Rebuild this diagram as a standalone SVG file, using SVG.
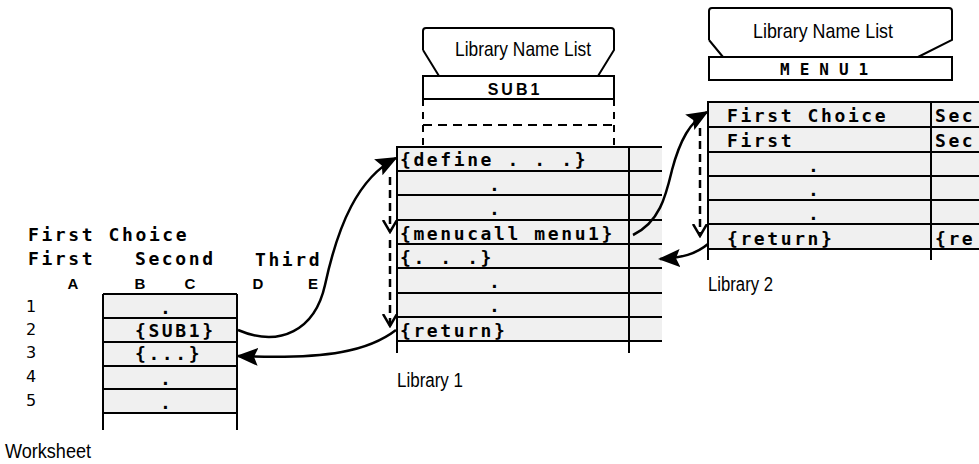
<svg xmlns="http://www.w3.org/2000/svg" width="979" height="464" viewBox="0 0 979 464">
<style>
.ln{stroke:#000;stroke-width:2;fill:none}
.cell{fill:#f0f0f0;stroke:none}
.m{font-family:"DejaVu Sans Mono",monospace;font-weight:bold;font-size:18px;letter-spacing:2.6px;fill:#000}
.h{font-family:"Liberation Sans",Arial,sans-serif;font-weight:bold;font-size:15px;fill:#000;text-anchor:middle}
.n{font-family:"DejaVu Sans",sans-serif;font-size:16px;fill:#000}
.lbl{font-family:"Liberation Sans",Arial,sans-serif;font-size:20px;fill:#000}
.nl{font-family:"Liberation Sans",Arial,sans-serif;font-size:21px;fill:#000;text-anchor:middle}
.conn{stroke:#000;stroke-width:2.5;fill:none}
.dash{stroke:#000;stroke-width:2.5;fill:none;stroke-dasharray:8 5}
</style>
<defs>
<marker id="triB" markerWidth="22" markerHeight="18" refX="20" refY="9" orient="auto" markerUnits="userSpaceOnUse" viewBox="0 0 22 18">
<path d="M0,0 L22,9 L0,18 L4,9 z" fill="#000"/>
</marker>
<marker id="chev" markerWidth="14" markerHeight="16" refX="12" refY="8" orient="auto" markerUnits="userSpaceOnUse" viewBox="0 0 14 16">
<path d="M0,1 L12,8 L0,15" fill="none" stroke="#000" stroke-width="2.5"/>
</marker>
</defs>
<rect width="979" height="464" fill="#fff"/>

<g id="worksheet">
<rect class="cell" x="103" y="294" width="134" height="119"/>
<path class="ln" d="M103,294 H237 M103,318 H237 M103,342 H237 M103,366 H237 M103,389 H237 M103,413 H237 M103,294 V430 M237,294 V430"/>
<text class="m" x="28" y="241">First Choice</text>
<text class="m" x="28" y="265">First</text>
<text class="m" x="135" y="265">Second</text>
<text class="m" x="255" y="266">Third</text>
<text class="h" x="73" y="289">A</text>
<text class="h" x="140" y="289">B</text>
<text class="h" x="190" y="289">C</text>
<text class="h" x="258" y="289">D</text>
<text class="h" x="313" y="289">E</text>
<text class="n" x="26" y="312">1</text>
<text class="n" x="26" y="335">2</text>
<text class="n" x="26" y="358">3</text>
<text class="n" x="26" y="382">4</text>
<text class="n" x="26" y="406">5</text>
<text class="m" x="160" y="314">.</text>
<text class="m" x="135" y="337">{SUB1}</text>
<text class="m" x="135" y="360">{...}</text>
<text class="m" x="160" y="385">.</text>
<text class="m" x="160" y="409">.</text>
<text class="lbl" x="5" y="458" textLength="86" lengthAdjust="spacingAndGlyphs">Worksheet</text>
</g>

<g id="namelist1">
<path class="ln" d="M426,28 H611 Q614,28 614,31 V50 L598,76 M423,50 V31 Q423,28 426,28 M423,50 L439,76"/>
<text class="nl" x="523" y="56" textLength="136" lengthAdjust="spacingAndGlyphs">Library Name List</text>
<rect x="423" y="76" width="191" height="23" fill="#fff" stroke="#000" stroke-width="2"/>
<text x="515" y="95" text-anchor="middle" font-family="Liberation Sans,Arial,sans-serif" font-weight="bold" font-size="16" letter-spacing="3">SUB1</text>
<path class="ln" d="M423,99 V147 M614,99 V147" stroke-dasharray="7 6"/>
<path class="ln" d="M423,125 H614" stroke-dasharray="9 6"/>
</g>

<g id="library1">
<rect class="cell" x="397" y="147" width="265" height="195"/>
<path class="ln" d="M397,147 H662 M397,171 H662 M397,195 H662 M397,220 H662 M397,244 H662 M397,268 H662 M397,293 H662 M397,317 H662 M397,341 H662 M397,146 V353 M629,146 V353"/>
<text class="m" x="400" y="166">{define . . .}</text>
<text class="m" x="489" y="191">.</text>
<text class="m" x="489" y="215">.</text>
<text class="m" x="400" y="240">{menucall menu1}</text>
<text class="m" x="400" y="264">{. . .}</text>
<text class="m" x="489" y="288">.</text>
<text class="m" x="489" y="312">.</text>
<text class="m" x="400" y="337">{return}</text>
<text class="lbl" x="397" y="387" textLength="66" lengthAdjust="spacingAndGlyphs">Library 1</text>
</g>

<g id="namelist2">
<path class="ln" d="M712,8 H949 Q952,8 952,11 V40 L918,57 M709,40 V11 Q709,8 712,8 M709,40 L723,57"/>
<text class="nl" x="823" y="38" textLength="140" lengthAdjust="spacingAndGlyphs">Library Name List</text>
<rect x="709" y="57" width="243" height="23" fill="#fff" stroke="#000" stroke-width="2"/>
<text class="m" x="780" y="75" style="font-size:16px;letter-spacing:10px">MENU1</text>
</g>

<g id="library2">
<rect class="cell" x="708" y="102" width="271" height="147"/>
<path class="ln" d="M708,102 H979 M708,127 H979 M708,152 H979 M708,176 H979 M708,200 H979 M708,224 H979 M708,249 H979 M708,101 V260 M931,101 V260"/>
<text class="m" x="727" y="122">First Choice</text>
<text class="m" x="935" y="122">Sec</text>
<text class="m" x="727" y="147">First</text>
<text class="m" x="935" y="147">Sec</text>
<text class="m" x="808" y="172">.</text>
<text class="m" x="808" y="196">.</text>
<text class="m" x="808" y="220">.</text>
<text class="m" x="727" y="245">{return}</text>
<text class="m" x="935" y="245">{re</text>
<text class="lbl" x="708" y="291" textLength="65" lengthAdjust="spacingAndGlyphs">Library 2</text>
</g>

<g id="connectors">
<path class="conn" marker-end="url(#triB)" d="M238,330 C280,348 315,330 325,285 C338,225 358,178 396,158"/>
<path class="conn" marker-end="url(#triB)" d="M396,330 C370,350 330,360 238,356"/>
<path class="dash" marker-end="url(#chev)" d="M390,177 V232"/>
<path class="dash" marker-end="url(#chev)" d="M390,240 V326"/>
<path class="conn" marker-end="url(#triB)" d="M633,235 C660,222 666,195 672,170 C680,140 690,122 707,112"/>
<path class="dash" marker-end="url(#chev)" d="M700,128 V236"/>
<path class="conn" marker-end="url(#triB)" d="M708,244 C696,254 682,258 660,259"/>
</g>
</svg>
